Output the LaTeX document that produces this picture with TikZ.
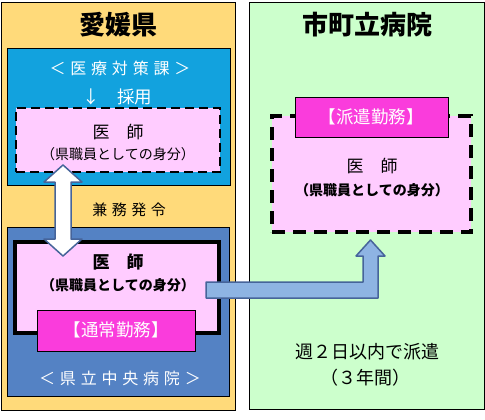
\documentclass[tikz,border=0pt]{standalone}
\usepackage{fontspec}
\setmainfont{Noto Sans CJK JP}
\newfontfamily\widefont[LetterSpace=30]{Noto Sans CJK JP}
\usetikzlibrary{calc}
\definecolor{ehimebg}{HTML}{FFDA7A}
\definecolor{citybg}{HTML}{CCFFCC}
\definecolor{officeblue}{HTML}{12A2DE}
\definecolor{hospblue}{HTML}{5482C4}
\definecolor{docpink}{HTML}{FFCCFF}
\definecolor{dutymag}{HTML}{FA3CDC}
\definecolor{arrowfill}{HTML}{8EB4E3}
\definecolor{arrowedge}{HTML}{46649A}

\begin{document}
\begin{tikzpicture}[x=1pt,y=-1pt,
    box/.style={draw, anchor=north west, inner sep=0pt, outer sep=0pt},
    dashbox/.style={box, fill=docpink, line width=2.5pt, dash pattern=on 9pt off 5pt},
    dutybox/.style={box, fill=dutymag, line width=0.6pt},
    title/.style={font=\bfseries\fontsize{26}{26}\selectfont},
    doc/.style={font=\fontsize{17}{17}\selectfont},
    status/.style={font=\fontsize{14}{14}\selectfont},
    whitetext/.style={text=white, font=\fontsize{17.5}{17.5}\selectfont},
    widetext/.style={font=\widefont\fontsize{16}{16}\selectfont},
    swaparrow/.style={draw=arrowedge, fill=white, line width=1.5pt, line join=round},
    sendarrow/.style={draw=arrowedge, fill=arrowfill, line width=1.5pt, line join=round}]
\useasboundingbox (0,0) rectangle (485,420);

\node[box, fill=ehimebg, line width=0.6pt, minimum width=234pt, minimum height=408pt] (ehime) at (1,2) {};
\node[box, fill=citybg, line width=0.6pt, minimum width=235pt, minimum height=407pt] (city) at (249,2) {};
\node[title] (ehimetitle) at (118,25) {愛媛県};
\node[title] (citytitle) at (367,25) {市町立病院};

\node[box, fill=officeblue, line width=0.6pt, minimum width=223pt, minimum height=137pt] (office) at (7,48) {};
\node[widetext, text=white] (officename) at (120,68) {＜医療対策課＞};
\node[whitetext] (hire) at (117,97) {↓　採用};
\node[dashbox, minimum width=204pt, minimum height=64pt] (docA) at (16,108) {};
\node[doc] (docAname) at (118,132) {医　師};
\node[status] (docAstatus) at (118,154) {（県職員としての身分）};

\node[widetext, font=\widefont\fontsize{15}{15}\selectfont] (concurrent) at (129,210) {兼務発令};

\node[box, fill=hospblue, line width=0.6pt, minimum width=222pt, minimum height=169pt] (central) at (7,227) {};
\node[box, fill=docpink, line width=3.5pt, minimum width=204pt, minimum height=91pt] (docB) at (15,242) {};
\node[doc, font=\bfseries\fontsize{17}{17}\selectfont] (docBname) at (118,262) {医　師};
\node[status, font=\bfseries\fontsize{14}{14}\selectfont] (docBstatus) at (118,285) {（県職員としての身分）};
\node[dutybox, minimum width=158pt, minimum height=41pt] (normal) at (37,310) {};
\node[whitetext] (normaltext) at (116,330) {【通常勤務】};
\node[widetext, text=white] (centralname) at (120,378) {＜県立中央病院＞};

\node[dashbox, line width=4pt, dash pattern=on 13pt off 8pt, minimum width=199pt, minimum height=116pt] (docC) at (272,116) {};
\node[dutybox, minimum width=153pt, minimum height=40pt] (dispatch) at (295,97) {};
\node[whitetext] (dispatchtext) at (371,117) {【派遣勤務】};
\node[doc] (docCname) at (372,166) {医　師};
\node[status, font=\bfseries\fontsize{14}{14}\selectfont] (docCstatus) at (372,190) {（県職員としての身分）};
\node[font=\fontsize{18}{18}\selectfont] (weekly) at (367,352) {週２日以内で派遣};
\node[font=\fontsize{18}{18}\selectfont] (term) at (365,378) {（３年間）};

\coordinate (swapTop) at (63,165);
\coordinate (swapBot) at (63,256);
\draw[swaparrow] (swapTop) -- ++(19,17) -- ++(-11,0) -- ($(swapBot)+(8,-17)$) -- ++(11,0) -- (swapBot)
    -- ++(-19,-17) -- ++(11,0) -- ($(swapTop)+(-8,17)$) -- ++(-11,0) -- cycle;

\coordinate (sendFrom) at (206,290);
\coordinate (sendTo) at (370.5,240);
\draw[sendarrow] ($(sendFrom)+(0,-8)$) -| ($(sendTo)+(-7.5,16)$) -- ++(-7,0) -- (sendTo) -- ++(14.5,16)
    -- ++(-7,0) |- ($(sendFrom)+(0,8)$) -- cycle;
\end{tikzpicture}
\end{document}
